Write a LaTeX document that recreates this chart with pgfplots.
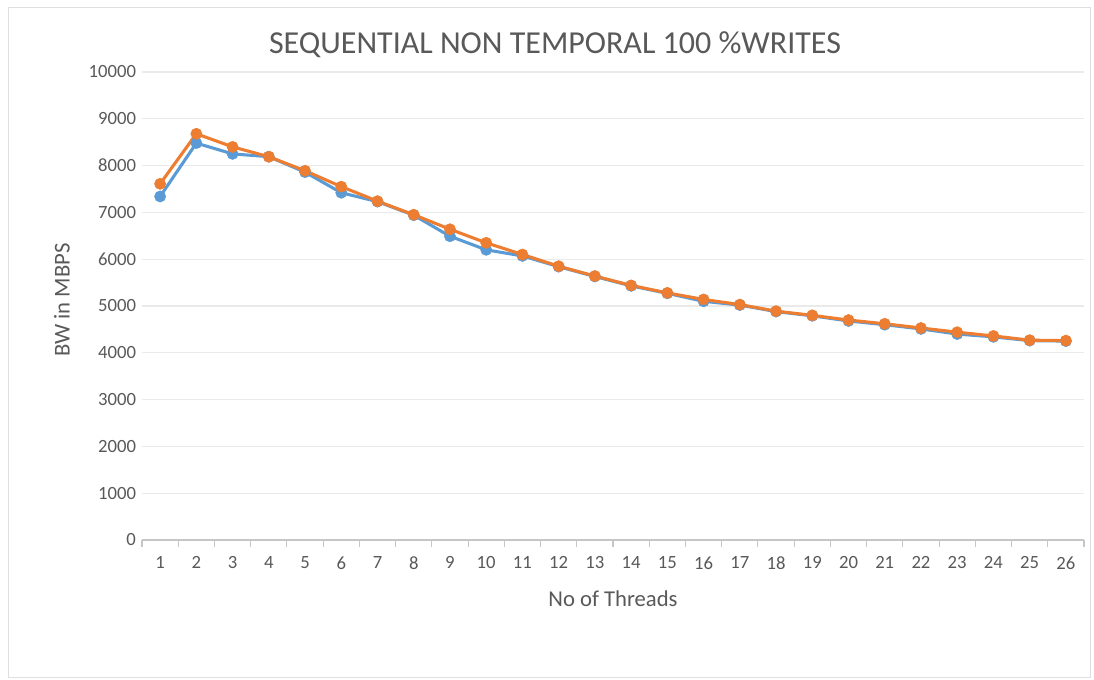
\documentclass[border=0pt]{standalone}
\usepackage{fontspec}
\setmainfont{Carlito}
\usepackage{pgfplots}
\pgfplotsset{compat=1.18}
\definecolor{xlblue}{HTML}{5B9BD5}
\definecolor{xlorange}{HTML}{ED7D31}
\definecolor{txtgray}{HTML}{595959}
\definecolor{gridgray}{HTML}{EAEAEA}
\begin{document}
\begin{tikzpicture}[x=0.75pt,y=0.75pt]
\useasboundingbox (0,0) rectangle (1094,680);
\fill[white] (0,0) rectangle (1094,680);
\draw[gray!25,line width=0.75pt] (8,2) rectangle (1090,672);
\node[text=txtgray,font=\fontsize{24}{28}\selectfont] at (555,635) {SEQUENTIAL NON TEMPORAL 100 \%WRITES};
\node[text=txtgray,font=\fontsize{17}{20}\selectfont] at (613,81) {No of Threads};
\node[text=txtgray,font=\fontsize{17}{20}\selectfont,rotate=90] at (62,380) {BW in MBPS};
\begin{axis}[
  at={(106.5pt,105pt)}, anchor=south west,
  scale only axis, width=706.5pt, height=351pt,
  xmin=0.5, xmax=26.5, ymin=0, ymax=10000,
  xtick={1,...,26},
  minor xtick={0.5,1.5,...,26.5},
  ytick={0,1000,...,10000},
  axis x line*=bottom, axis y line*=left,
  y axis line style={draw=none},
  x axis line style={draw=gray!45,line width=0.9pt},
  major tick length=0pt,
  minor tick length=5pt,
  tick align=outside,
  minor tick style={draw=gray!45,line width=0.8pt},
  ymajorgrids, major grid style={draw=gridgray,line width=0.9pt},
  ticklabel style={text=txtgray,font=\fontsize{14}{16}\selectfont},
  /pgf/number format/assume math mode=true,
  scaled y ticks=false,
  yticklabel style={/pgf/number format/set thousands separator={}, xshift=-1pt},
  xticklabel style={yshift=-9pt},
  clip=false,
]
\addplot[xlblue, line width=2.3pt, mark=*, mark size=4.2pt, mark options={solid,fill=xlblue,draw=xlblue,line width=0.4pt}] coordinates {
(1,7340) (2,8480) (3,8250) (4,8190) (5,7860) (6,7420) (7,7230) (8,6940) (9,6490) (10,6200)
(11,6070) (12,5840) (13,5630) (14,5430) (15,5270) (16,5100) (17,5020) (18,4880) (19,4790) (20,4680)
(21,4600) (22,4510) (23,4400) (24,4340) (25,4260) (26,4250)};
\addplot[xlorange, line width=2.3pt, mark=*, mark size=4.2pt, mark options={solid,fill=xlorange,draw=xlorange,line width=0.4pt}] coordinates {
(1,7610) (2,8680) (3,8400) (4,8190) (5,7890) (6,7550) (7,7240) (8,6950) (9,6640) (10,6350)
(11,6100) (12,5850) (13,5640) (14,5440) (15,5280) (16,5140) (17,5030) (18,4890) (19,4800) (20,4700)
(21,4620) (22,4530) (23,4440) (24,4360) (25,4270) (26,4260)};
\end{axis}
\end{tikzpicture}
\end{document}
